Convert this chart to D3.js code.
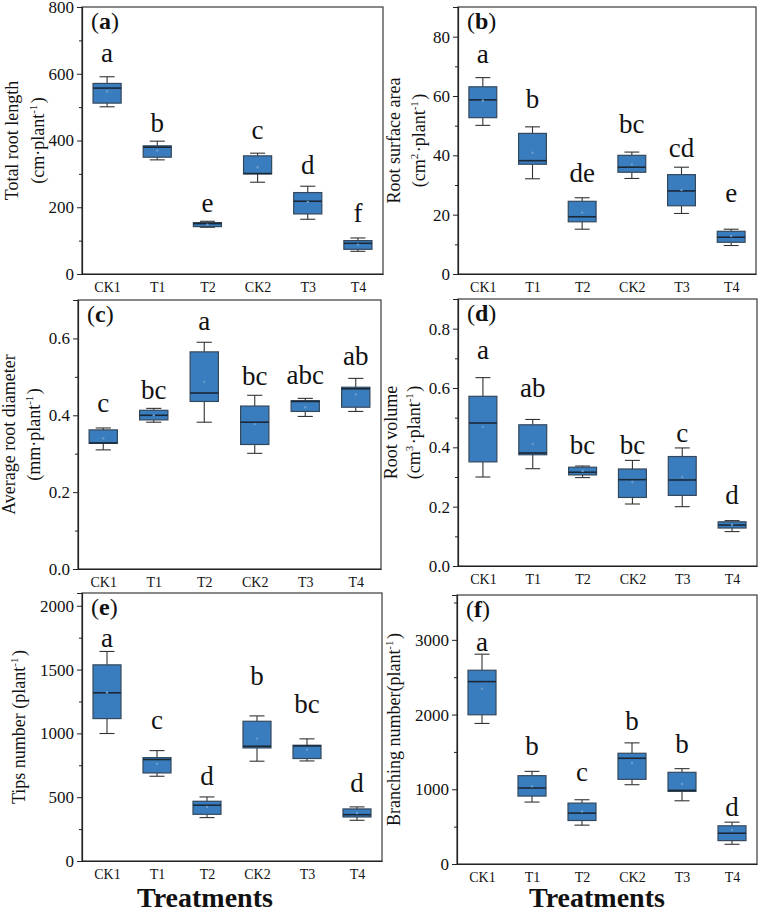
<!DOCTYPE html>
<html>
<head>
<meta charset="utf-8">
<script src="https://cdn.jsdelivr.net/npm/d3@7"></script>
<style>
body { margin: 0; background: #fff; }
text { font-family: "Times New Roman", "Liberation Serif", serif; fill: #111; }
</style>
</head>
<body>
<script>
var treatments = ["CK1", "T1", "T2", "CK2", "T3", "T4"];

// box stats per treatment: [min, q1, median, q3, max, mean]
var rootLength = [[501, 512, 557, 571, 591, 547], [342, 350, 380, 384, 398, 370], [140, 142, 151, 154, 158, 148],
                  [275, 300, 301, 354, 362, 320], [164, 180, 218, 244, 263, 216], [68, 74, 92, 100, 108, 88]];
var rootLengthLetters = ["a", "b", "e", "c", "d", "f"];
var rootLengthLetterAt = [634, 425, 186, 405, 300, 156];
var rootLengthTicks = [0, 200, 400, 600, 800];
var rootLengthMinor = [100, 300, 500, 700];

var surfaceArea = [[50.1, 52.7, 58.7, 63.1, 66.2, 58.5], [32.1, 37.0, 38.2, 47.4, 49.6, 40.9], [15.1, 17.6, 19.3, 24.5, 25.7, 20.7],
                   [32.2, 34.3, 36.0, 40.0, 41.1, 36.9], [20.4, 23.0, 28.0, 33.5, 36.0, 28.3], [9.6, 10.7, 12.4, 14.4, 15.1, 12.8]];
var surfaceAreaLetters = ["a", "b", "de", "bc", "cd", "e"];
var surfaceAreaLetterAt = [71.0, 55.8, 31.1, 47.4, 39.6, 24.4];
var surfaceAreaTicks = [0, 20, 40, 60, 80];
var surfaceAreaMinor = [10, 30, 50, 70];

var diameter = [[0.310, 0.327, 0.328, 0.362, 0.367, 0.340], [0.382, 0.388, 0.400, 0.413, 0.418, 0.400], [0.382, 0.436, 0.458, 0.565, 0.590, 0.487],
                [0.301, 0.324, 0.382, 0.424, 0.452, 0.377], [0.397, 0.410, 0.436, 0.438, 0.444, 0.421], [0.410, 0.421, 0.469, 0.473, 0.496, 0.454]];
var diameterLetters = ["c", "bc", "a", "bc", "abc", "ab"];
var diameterLetterAt = [0.408, 0.443, 0.622, 0.480, 0.482, 0.530];
var diameterTicks = [0, 0.2, 0.4, 0.6];
var diameterMinor = [0.1, 0.3, 0.5, 0.7];

var volume = [[0.300, 0.351, 0.482, 0.572, 0.635, 0.469], [0.328, 0.375, 0.381, 0.476, 0.494, 0.411], [0.298, 0.307, 0.316, 0.333, 0.337, 0.320],
              [0.209, 0.231, 0.291, 0.327, 0.356, 0.283], [0.200, 0.238, 0.290, 0.369, 0.398, 0.300], [0.116, 0.128, 0.138, 0.149, 0.153, 0.139]];
var volumeLetters = ["a", "ab", "bc", "bc", "c", "d"];
var volumeLetterAt = [0.699, 0.570, 0.379, 0.379, 0.418, 0.210];
var volumeTicks = [0, 0.2, 0.4, 0.6, 0.8];
var volumeMinor = [0.1, 0.3, 0.5, 0.7];

var tips = [[999, 1116, 1318, 1537, 1642, 1320], [664, 690, 795, 810, 865, 763], [340, 366, 437, 468, 502, 424],
            [782, 886, 899, 1095, 1137, 959], [784, 803, 902, 907, 957, 873], [319, 345, 363, 408, 424, 376]];
var tipsLetters = ["a", "c", "d", "b", "bc", "d"];
var tipsLetterAt = [1678, 1038, 593, 1378, 1156, 541];
var tipsTicks = [0, 500, 1000, 1500, 2000];
var tipsMinor = [250, 750, 1250, 1750];

var branching = [[1881, 1997, 2441, 2593, 2808, 2347], [829, 909, 1017, 1182, 1240, 1039], [520, 582, 681, 815, 860, 703],
                 [1061, 1133, 1415, 1482, 1621, 1352], [846, 972, 985, 1227, 1276, 1070], [264, 313, 412, 511, 560, 457]];
var branchingLetters = ["a", "b", "c", "b", "b", "d"];
var branchingLetterAt = [2853, 1464, 1106, 1800, 1487, 636];
var branchingTicks = [0, 1000, 2000, 3000];
var branchingMinor = [500, 1500, 2500, 3500];

var panels = [
    {tag: "a", stats: rootLength, letters: rootLengthLetters, at: rootLengthLetterAt, ticks: rootLengthTicks, minor: rootLengthMinor,
     top: 800, fmt: "d", x: 82, y: 7, w: 301, h: 267,
     title: ["Total root length", "(cm·plant^{-1})"], tx: [-64, -38]},
    {tag: "b", stats: surfaceArea, letters: surfaceAreaLetters, at: surfaceAreaLetterAt, ticks: surfaceAreaTicks, minor: surfaceAreaMinor,
     top: 90, fmt: "d", x: 458, y: 7, w: 298, h: 267,
     title: ["Root surface area", "(cm^{2}·plant^{-1})"], tx: [-58, -33]},
    {tag: "c", stats: diameter, letters: diameterLetters, at: diameterLetterAt, ticks: diameterTicks, minor: diameterMinor,
     top: 0.7, fmt: ".1f", x: 78, y: 300, w: 303, h: 269,
     title: ["Average root diameter", "(mm·plant^{-1})"], tx: [-63, -38]},
    {tag: "d", stats: volume, letters: volumeLetters, at: volumeLetterAt, ticks: volumeTicks, minor: volumeMinor,
     top: 0.9, fmt: ".1f", x: 458, y: 299, w: 299, h: 267,
     title: ["Root volume", "(cm^{3}·plant^{-1})"], tx: [-61, -38]},
    {tag: "e", stats: tips, letters: tipsLetters, at: tipsLetterAt, ticks: tipsTicks, minor: tipsMinor,
     top: 2100, fmt: "d", x: 82, y: 593, w: 300, h: 268,
     title: ["Tips number (plant^{-1})"], tx: [-57]},
    {tag: "f", stats: branching, letters: branchingLetters, at: branchingLetterAt, ticks: branchingTicks, minor: branchingMinor,
     top: 3600, fmt: "d", x: 457, y: 595, w: 300, h: 269,
     title: ["Branching number(plant^{-1})"], tx: [-57]}
];

var boxFill = "#3a7dbe", boxLine = "#34485c", medianLine = "#1b2836", whiskerLine = "#333";

var svg = d3.select("body").append("svg")
    .attr("width", 760)
    .attr("height", 912);

// write "abc^{-1}" style strings as tspans with superscripts
function richText(sel, str) {
    var parts = str.split(/(\^\{[^}]*\})/);
    parts.forEach(function(p) {
        if (!p) return;
        if (p.charAt(0) == "^") {
            sel.append("tspan").attr("dy", -7).style("font-size", "11px").text(p.slice(2, -1));
            sel.append("tspan").attr("dy", 7).text("\u200a");
        } else {
            sel.append("tspan").text(p);
        }
    });
}

panels.forEach(function(p) {
    var g = svg.append("g").attr("transform", "translate(" + p.x + "," + p.y + ")");

    var xScale = d3.scalePoint().domain(treatments).range([0, p.w]).padding(0.5);
    var yScale = d3.scaleLinear().domain([0, p.top]).range([p.h, 0]);
    var step = xScale.step();
    var boxW = step * 0.56, capW = step * 0.3;

    // frame
    g.append("rect")
        .attr("width", p.w).attr("height", p.h)
        .attr("fill", "none").attr("stroke", "#3a3a3a").attr("stroke-width", 1.2);

    // y axis, major + minor ticks
    var yAxis = d3.axisLeft(yScale).tickValues(p.ticks).tickSize(5).tickPadding(3).tickFormat(d3.format(p.fmt));
    var ya = g.append("g").call(yAxis);
    ya.select(".domain").attr("stroke", "#222").attr("stroke-width", 1.2);
    ya.selectAll(".tick line").attr("stroke", "#222");
    ya.selectAll(".tick text").style("font-size", "17px").attr("fill", "#111");
    var ym = g.append("g").call(d3.axisLeft(yScale).tickValues(p.minor).tickSize(3).tickFormat(""));
    ym.select(".domain").remove();
    ym.selectAll(".tick line").attr("stroke", "#222");

    // x axis, labels only
    var xa = g.append("g").attr("transform", "translate(0," + p.h + ")")
        .call(d3.axisBottom(xScale).tickSize(0).tickPadding(8));
    xa.select(".domain").attr("stroke", "#222").attr("stroke-width", 1.2);
    xa.selectAll(".tick text").style("font-size", "14px").attr("fill", "#111");

    var boxes = g.selectAll(".box")
        .data(p.stats)
        .enter()
        .append("g")
        .attr("class", "box")
        .attr("transform", function(d, i) { return "translate(" + xScale(treatments[i]) + ",0)"; });

    // whiskers
    boxes.append("line")
        .attr("y1", function(d) { return yScale(d[0]); })
        .attr("y2", function(d) { return yScale(d[1]); })
        .attr("stroke", whiskerLine).attr("stroke-width", 1.1);
    boxes.append("line")
        .attr("y1", function(d) { return yScale(d[3]); })
        .attr("y2", function(d) { return yScale(d[4]); })
        .attr("stroke", whiskerLine).attr("stroke-width", 1.1);
    [0, 4].forEach(function(k) {
        boxes.append("line")
            .attr("x1", -capW / 2).attr("x2", capW / 2)
            .attr("y1", function(d) { return yScale(d[k]); })
            .attr("y2", function(d) { return yScale(d[k]); })
            .attr("stroke", whiskerLine).attr("stroke-width", 1.1);
    });

    boxes.append("rect")
        .attr("x", -boxW / 2)
        .attr("width", boxW)
        .attr("y", function(d) { return yScale(d[3]); })
        .attr("height", function(d) { return Math.max(1, yScale(d[1]) - yScale(d[3])); })
        .attr("fill", boxFill)
        .attr("stroke", boxLine)
        .attr("stroke-width", 1.2);

    boxes.append("line")
        .attr("x1", -boxW / 2).attr("x2", boxW / 2)
        .attr("y1", function(d) { return yScale(d[2]); })
        .attr("y2", function(d) { return yScale(d[2]); })
        .attr("stroke", medianLine).attr("stroke-width", 1.6);

    boxes.append("circle")
        .attr("r", 1.2)
        .attr("cy", function(d) { return yScale(d[5]); })
        .attr("fill", "#6b9ccc");

    // significance letters
    g.selectAll(".letter")
        .data(p.letters)
        .enter()
        .append("text")
        .attr("x", function(d, i) { return xScale(treatments[i]); })
        .attr("y", function(d, i) { return yScale(p.at[i]); })
        .attr("text-anchor", "middle")
        .style("font-size", "27px")
        .text(function(d) { return d; });

    // panel tag, e.g. (a)
    var tag = g.append("text").attr("x", 9).attr("y", 22).style("font-size", "24px");
    tag.append("tspan").text("(");
    tag.append("tspan").style("font-weight", "bold").text(p.tag);
    tag.append("tspan").text(")");

    // y title, one or two lines
    p.title.forEach(function(line, k) {
        var t = g.append("text")
            .attr("transform", "translate(" + p.tx[k] + "," + (p.h / 2) + ") rotate(-90)")
            .attr("text-anchor", "middle")
            .style("font-size", "18px");
        richText(t, line);
    });
});

// shared x titles under the bottom row
[205, 597].forEach(function(cx) {
    svg.append("text")
        .attr("x", cx)
        .attr("y", 907)
        .attr("text-anchor", "middle")
        .style("font-size", "28px")
        .style("font-weight", "bold")
        .text("Treatments");
});
</script>
</body>
</html>
